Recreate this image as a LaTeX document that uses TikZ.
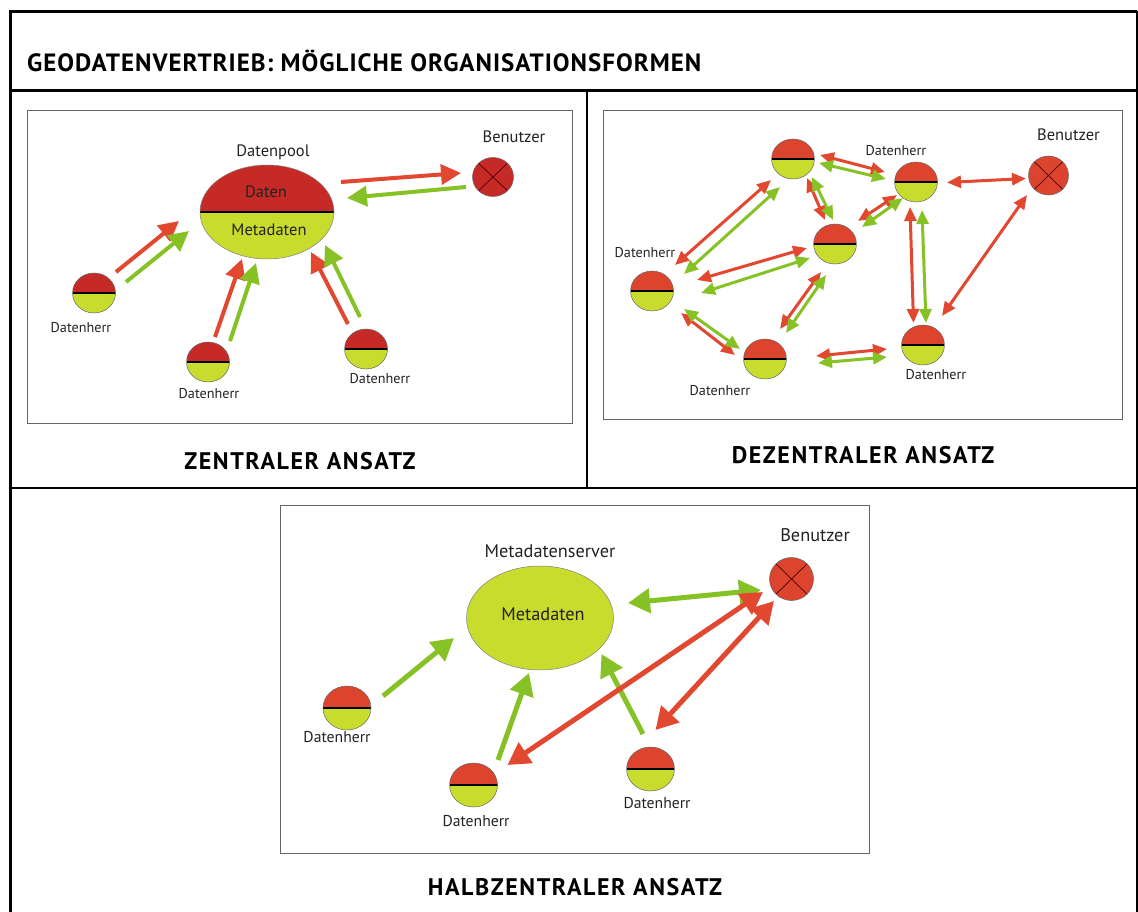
\documentclass[tikz,border=0pt]{standalone}
\usepackage{fontspec}
\setmainfont{PT Sans}
\usetikzlibrary{arrows.meta,shapes.geometric}
\definecolor{dred}{HTML}{C52A27}
\definecolor{ored}{HTML}{DC442E}
\definecolor{ared}{HTML}{E2472F}
\definecolor{agreen}{HTML}{86C226}
\definecolor{fgreen}{HTML}{C8DC2E}
\definecolor{txt}{HTML}{222222}
\tikzset{
  frame/.style={draw=black},
  inbox/.style={draw=black!60, line width=0.9},
  dh/.style={ellipse, inner sep=0, draw=black!60, line width=0.5,
    path picture={
      \fill[#1] (path picture bounding box.north west) rectangle (path picture bounding box.east);
      \fill[fgreen] (path picture bounding box.west) rectangle (path picture bounding box.south east);
      \draw[black, line width=1.3] (path picture bounding box.west) -- (path picture bounding box.east);}},
  dh/.default=ored,
  user/.style={ellipse, inner sep=0, draw=black!60, line width=0.5, fill=#1,
    path picture={
      \draw[black!70!red, line width=0.7] (path picture bounding box.north west) -- (path picture bounding box.south east)
        (path picture bounding box.north east) -- (path picture bounding box.south west);}},
  lbl/.style={inner sep=0, text=txt, font=\fontsize{14.2}{17}\selectfont},
  lblb/.style={inner sep=0, text=txt, font=\fontsize{16.5}{19}\selectfont},
  lblc/.style={inner sep=0, text=txt, font=\fontsize{18.3}{21}\selectfont},
  captxt/.style={inner sep=0, text=black, font=\fontsize{24}{28}\selectfont\bfseries\addfontfeature{LetterSpace=6.5}},
  arrA/.style={line width=4, draw=#1, -{Triangle[length=20, width=20]}},
  arrC/.style={line width=3, draw=#1, {Triangle[length=14, width=12]}-{Triangle[length=14, width=12]}},
  arrB/.style={line width=5, draw=#1, -{Triangle[length=22, width=24]}},
  arrBB/.style={line width=5, draw=#1, {Triangle[length=22, width=24]}-{Triangle[length=22, width=24]}},
}
\begin{document}
\begin{tikzpicture}[x=1pt,y=-1pt]
\useasboundingbox (0,0) rectangle (1138,912);
% frame
\draw[frame, line width=3.5] (10.5,912) -- (10.5,11.5) -- (1136.5,11.5);
\draw[frame, line width=2] (1136.5,11.5) -- (1136.5,912);
\draw[frame, line width=3] (10.5,90.5) -- (1136.5,90.5);
\draw[frame, line width=1.5] (587,91) -- (587,488);
\draw[frame, line width=1.5] (10.5,488) -- (1136.5,488);
\node[anchor=west, inner sep=0, font=\fontsize{25}{30}\selectfont\bfseries\addfontfeature{LetterSpace=4}] (title) at (27,61) {GEODATENVERTRIEB: MÖGLICHE ORGANISATIONSFORMEN};
% inner boxes
\draw[inbox] (27,110) rectangle (572,423);
\draw[inbox] (603,110) rectangle (1122,419);
\draw[inbox] (280,505) rectangle (869,853);
\node[captxt] (capA) at (300,461) {ZENTRALER ANSATZ};
\node[captxt] (capB) at (863,455) {DEZENTRALER ANSATZ};
\node[captxt] (capC) at (575,887) {HALBZENTRALER ANSATZ};

% ===== Zentraler Ansatz =====
\node[ellipse, minimum width=134, minimum height=94, inner sep=0, draw=black!50, line width=0.5,
  path picture={
    \fill[dred] (path picture bounding box.north west) rectangle (path picture bounding box.east);
    \fill[fgreen] (path picture bounding box.west) rectangle (path picture bounding box.south east);
    \draw[black, line width=1.3] (path picture bounding box.west) -- (path picture bounding box.east);}] (pool) at (267,212) {};
\node[lblb] (poollab) at (273,152) {Datenpool};
\node[lblb] (poold) at (266,192) {Daten};
\node[lblb] (poolm) at (269,230) {Metadaten};
\node[user=dred, minimum width=41, minimum height=39] (u1) at (493,177) {};
\node[lblb] (u1lab) at (514,137) {Benutzer};
\node[dh=dred, minimum width=43, minimum height=40] (a1) at (94,293) {};
\node[lbl] (a1lab) at (81,328) {Datenherr};
\node[dh=dred, minimum width=43, minimum height=40] (a2) at (208,362) {};
\node[lbl] (a2lab) at (209,394) {Datenherr};
\node[dh=dred, minimum width=43, minimum height=40] (a3) at (366,349) {};
\node[lbl] (a3lab) at (380,379) {Datenherr};
\coordinate (a1r0) at (116,272); \coordinate (a1r1) at (179,221);
\coordinate (a1g0) at (126,282); \coordinate (a1g1) at (189,231);
\coordinate (a2r0) at (215,337); \coordinate (a2r1) at (242,259);
\coordinate (a2g0) at (230,341); \coordinate (a2g1) at (256,263);
\coordinate (a3r0) at (348,324); \coordinate (a3r1) at (311,252);
\coordinate (a3g0) at (360,317); \coordinate (a3g1) at (325,245);
\coordinate (u1r0) at (341,182); \coordinate (u1r1) at (461,173);
\coordinate (u1g0) at (466,187); \coordinate (u1g1) at (347,198);
\draw[arrA=ared] (a1r0) -- (a1r1);
\draw[arrA=agreen] (a1g0) -- (a1g1);
\draw[arrA=ared] (a2r0) -- (a2r1);
\draw[arrA=agreen] (a2g0) -- (a2g1);
\draw[arrA=ared] (a3r0) -- (a3r1);
\draw[arrA=agreen] (a3g0) -- (a3g1);
\draw[arrA=ared] (u1r0) -- (u1r1);
\draw[arrA=agreen] (u1g0) -- (u1g1);

% ===== Dezentraler Ansatz =====
\node[dh, minimum width=43, minimum height=40] (bA) at (793,159) {};
\node[dh, minimum width=43, minimum height=40] (bB) at (916,182) {};
\node[lbl] (bBlab) at (896,151) {Datenherr};
\node[dh, minimum width=43, minimum height=40] (bC) at (835,244) {};
\node[dh, minimum width=43, minimum height=40] (bD) at (652,291) {};
\node[lbl] (bDlab) at (645,253) {Datenherr};
\node[dh, minimum width=43, minimum height=40] (bE) at (765,359) {};
\node[lbl] (bElab) at (720,391) {Datenherr};
\node[dh, minimum width=43, minimum height=40] (bF) at (923,345) {};
\node[lbl] (bFlab) at (936,375) {Datenherr};
\node[user=ored, minimum width=40, minimum height=39] (u2) at (1048.5,175.5) {};
\node[lblb] (u2lab) at (1068.5,135) {Benutzer};
% A-B
\coordinate (ABr0) at (820,155); \coordinate (ABr1) at (885,172);
\coordinate (ABg0) at (819,163); \coordinate (ABg1) at (886,179);
% A-C
\coordinate (ACr0) at (807,178); \coordinate (ACr1) at (825,220);
\coordinate (ACg0) at (812,177); \coordinate (ACg1) at (833,220);
% B-C
\coordinate (BCr0) at (897,195); \coordinate (BCr1) at (858,221);
\coordinate (BCg0) at (903,198); \coordinate (BCg1) at (862,227);
% B-U
\coordinate (BUr0) at (947,182.5); \coordinate (BUr1) at (1026,178.5);
% D-A
\coordinate (DAr0) at (675,265); \coordinate (DAr1) at (771,180);
\coordinate (DAg0) at (684,274); \coordinate (DAg1) at (780,187);
% D-C
\coordinate (DCr0) at (697,280); \coordinate (DCr1) at (807,248);
\coordinate (DCg0) at (701,293); \coordinate (DCg1) at (810,258);
% D-E
\coordinate (DEr0) at (681,313); \coordinate (DEr1) at (735,355);
\coordinate (DEg0) at (684,309); \coordinate (DEg1) at (740,349);
% E-C
\coordinate (ECr0) at (780,329); \coordinate (ECr1) at (821,272);
\coordinate (ECg0) at (786,333); \coordinate (ECg1) at (826,275);
% E-F
\coordinate (EFr0) at (816,356); \coordinate (EFr1) at (887,349);
\coordinate (EFg0) at (818,363); \coordinate (EFg1) at (887,357);
% B-F
\coordinate (BFr0) at (910,207); \coordinate (BFr1) at (913.5,323);
\coordinate (BFg0) at (922,210); \coordinate (BFg1) at (926,323);
% U-F
\coordinate (UFr0) at (1027,195); \coordinate (UFr1) at (942,316);
\draw[arrC=ared] (ABr0) -- (ABr1);
\draw[arrC=agreen] (ABg0) -- (ABg1);
\draw[arrC=ared] (ACr0) -- (ACr1);
\draw[arrC=agreen] (ACg0) -- (ACg1);
\draw[arrC=ared] (BCr0) -- (BCr1);
\draw[arrC=agreen] (BCg0) -- (BCg1);
\draw[arrC=ared] (BUr0) -- (BUr1);
\draw[arrC=ared] (DAr0) -- (DAr1);
\draw[arrC=agreen] (DAg0) -- (DAg1);
\draw[arrC=ared] (DCr0) -- (DCr1);
\draw[arrC=agreen] (DCg0) -- (DCg1);
\draw[arrC=ared] (DEr0) -- (DEr1);
\draw[arrC=agreen] (DEg0) -- (DEg1);
\draw[arrC=ared] (ECr0) -- (ECr1);
\draw[arrC=agreen] (ECg0) -- (ECg1);
\draw[arrC=ared] (EFr0) -- (EFr1);
\draw[arrC=agreen] (EFg0) -- (EFg1);
\draw[arrC=ared] (BFr0) -- (BFr1);
\draw[arrC=agreen] (BFg0) -- (BFg1);
\draw[arrC=ared] (UFr0) -- (UFr1);

% ===== Halbzentraler Ansatz =====
\node[ellipse, minimum width=147, minimum height=104, inner sep=0, draw=black!50, line width=0.5, fill=fgreen] (srv) at (540,618) {};
\node[lblc] (srvlab) at (550,551) {Metadatenserver};
\node[lblc] (srvm) at (543,614) {Metadaten};
\node[user=ored, minimum width=44, minimum height=43] (u3) at (791.5,579) {};
\node[lblc] (u3lab) at (815,535) {Benutzer};
\node[dh, minimum width=48, minimum height=44] (c1) at (347,708) {};
\node[lbl, font=\fontsize{15.7}{18}\selectfont] (c1lab) at (337,737) {Datenherr};
\node[dh, minimum width=48, minimum height=44] (c2) at (473.5,785) {};
\node[lbl, font=\fontsize{15.7}{18}\selectfont] (c2lab) at (476,821) {Datenherr};
\node[dh, minimum width=48, minimum height=44] (c3) at (650.5,769) {};
\node[lbl, font=\fontsize{15.7}{18}\selectfont] (c3lab) at (657,803) {Datenherr};
\coordinate (c1g0) at (383,696); \coordinate (c1g1) at (454,638);
\coordinate (c2g0) at (498,760); \coordinate (c2g1) at (529,673);
\coordinate (c3g0) at (643,734); \coordinate (c3g1) at (601.5,654);
\coordinate (ug0) at (628,603); \coordinate (ug1) at (761,590);
\coordinate (c2r0) at (507.5,765); \coordinate (c2r1) at (763,592);
\coordinate (c3r0) at (655.5,730); \coordinate (c3r1) at (774,601);
\draw[arrB=agreen] (c1g0) -- (c1g1);
\draw[arrB=agreen] (c2g0) -- (c2g1);
\draw[arrB=agreen] (c3g0) -- (c3g1);
\draw[arrBB=agreen] (ug0) -- (ug1);
\draw[arrBB=ared] (c2r0) -- (c2r1);
\draw[arrBB=ared] (c3r0) -- (c3r1);
\end{tikzpicture}
\end{document}
